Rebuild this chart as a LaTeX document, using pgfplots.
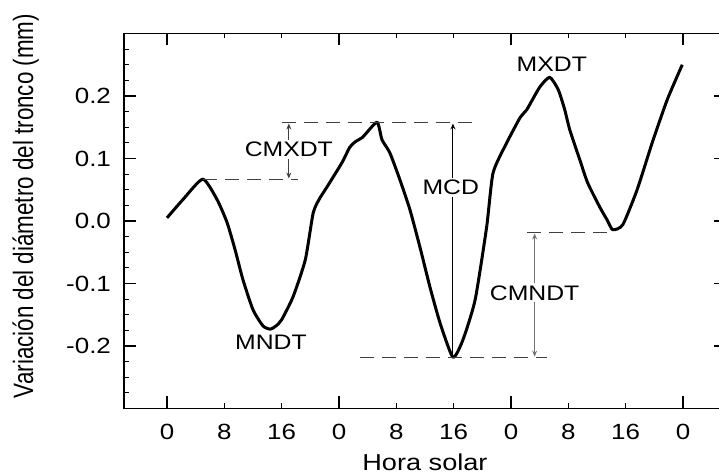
\documentclass[border=0pt]{standalone}
\usepackage{pgfplots}
\pgfplotsset{compat=1.18}
\usetikzlibrary{arrows.meta}
\usepackage{fontspec}
\setmainfont[FakeStretch=1.18]{Liberation Sans}
\newfontfamily\ylfont{Liberation Sans}

\begin{document}
\begin{tikzpicture}
\begin{axis}[
  scale only axis, width=301pt, height=187.5pt,
  xmin=-6, xmax=78, ymin=-0.3, ymax=0.3,
  axis line style={line width=0.6pt},
  tick align=inside, xtick pos=both, ytick pos=both,
  major tick length=6pt, minor tick length=2.5pt,
  every tick/.style={black, line width=0.6pt},
  xtick={0,24,48,72}, xticklabels={0,0,0,0},
  extra x ticks={8,16,32,40,56,64},
  extra x tick labels={8,16,8,16,8,16},
  extra x tick style={major tick length=2.5pt},
  ytick={-0.2,-0.1,0,0.1,0.2}, yticklabels={-0.2,-0.1,0.0,0.1,0.2},
  minor ytick={-0.275,-0.25,-0.225,-0.175,-0.15,-0.125,-0.075,-0.05,-0.025,
               0.025,0.05,0.075,0.125,0.15,0.175,0.225,0.25,0.275},
  ticklabel style={font=\fontsize{11}{13}\selectfont},
  xticklabel style={yshift=-4.5pt},
  yticklabel style={xshift=-3pt},
  xlabel={Hora solar},
  xlabel style={at={(axis description cs:0.5,0)}, anchor=base, yshift=-31.25pt,
                font=\fontsize{11.5}{13}\selectfont},
  ylabel={\scalebox{1}[1.25]{\ylfont Variación del diámetro del tronco (mm)}},
  ylabel style={at={(axis description cs:-0.151,0.54)}, anchor=base,
                font=\fontsize{11.2}{13}\selectfont},
  clip=false,
]
% variacion del diametro (hora solar acumulada, mm)
\addplot[black, line width=1.5pt, line join=round, smooth, tension=0.35] coordinates {
  (0,0.005)(2.2,0.034)(5.0,0.067)(7.0,0.034)(8.4,-0.003)(9.5,-0.046)
  (10.6,-0.094)(12.0,-0.142)(13.4,-0.168)(14.4,-0.173)(15.2,-0.168)
  (16.0,-0.158)(17.6,-0.121)(19.3,-0.062)(20.4,0.013)(21.3,0.036)
  (22.3,0.054)(24.4,0.093)(25.5,0.118)(26.3,0.127)(27.3,0.134)(29.3,0.158)
  (30.0,0.130)(31.1,0.109)(32.5,0.066)(33.9,0.018)(35.3,-0.042)
  (36.7,-0.106)(38.1,-0.163)(39.9,-0.218)(41.3,-0.190)(43.0,-0.126)
  (44.6,-0.010)(45.5,0.077)(47.4,0.125)(49.3,0.166)(50.2,0.178)
  (52.0,0.214)(53.4,0.230)(54.6,0.210)(55.5,0.178)(56.2,0.146)
  (57.6,0.098)(58.7,0.061)(60.4,0.022)(61.4,0.002)(62.2,-0.014)
  (63.6,-0.006)(65.6,0.050)(67.7,0.125)(69.8,0.194)(71.9,0.250)};

% lineas de referencia
\begin{scope}[black!75, line width=0.5pt, dash pattern=on 7pt off 4pt]
  \draw (5.0,0.066) -- (18.3,0.066);
  \draw (16.0,0.158) -- (42.5,0.158);
  \draw (27.0,-0.219) -- (53.0,-0.219);
  \draw (50.2,-0.018) -- (62.2,-0.018);
\end{scope}
\tikzset{lbl/.style={font=\fontsize{10.5}{12}\selectfont, fill=white, inner sep=1pt}}
\draw[black!75, line width=0.5pt, {Stealth[length=3pt,width=2.5pt]}-{Stealth[length=3pt,width=2.5pt]}]
  (17.0,0.068) -- (17.0,0.156);
\node[lbl] at (17.0,0.115) {CMXDT};
\draw[black, line width=0.5pt, -{Stealth[length=3pt,width=2.5pt]}]
  (39.9,-0.218) -- (39.9,0.156);
\node[lbl] at (39.6,0.054) {MCD};
\draw[black!55, line width=0.5pt, {Stealth[length=3pt,width=2.5pt]}-{Stealth[length=3pt,width=2.5pt]}]
  (51.3,-0.020) -- (51.3,-0.217);
\node[lbl] at (51.3,-0.115) {CMNDT};
\node[font=\fontsize{10.5}{12}\selectfont] at (14.5,-0.194) {MNDT};
\node[font=\fontsize{10.5}{12}\selectfont] at (53.7,0.250) {MXDT};
\end{axis}
\pgfresetboundingbox
\path[use as bounding box] ([xshift=-62pt,yshift=-33.75pt]current axis.south west)
  rectangle ++(359.5pt,238pt);
\end{tikzpicture}
\end{document}
